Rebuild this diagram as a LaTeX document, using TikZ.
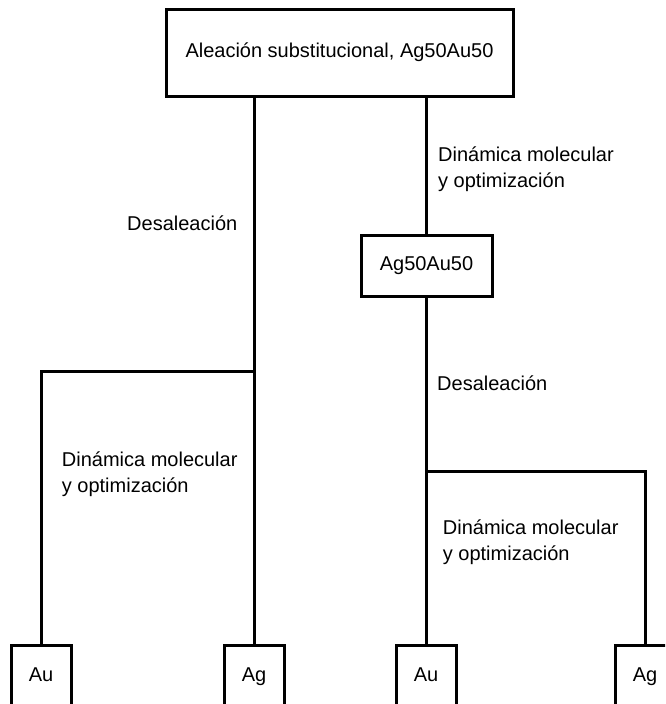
\documentclass[tikz,border=0pt]{standalone}
\usepackage{fontspec}
\setmainfont{Liberation Sans}
\begin{document}
\begin{tikzpicture}[x=1pt,y=-1pt,
  every node/.style={font=\fontsize{20}{26}\selectfont},
  box/.style={draw=black,line width=3pt,fill=white,inner sep=0pt},
  leaf/.style={box,minimum width=60pt,minimum height=62pt,text height=14.3pt,text depth=4.2pt},
  note/.style={anchor=base west,align=left,inner sep=0pt},
  link/.style={line width=3pt}]
\useasboundingbox (0,0) rectangle (665,704);
\fill[white] (0,0) rectangle (665,704);
\clip (0,0) rectangle (665,704);

% start and intermediate alloys
\node[box,minimum width=347pt,minimum height=87pt] (alloy) at (339.5,52.5)
  {Aleación substitucional, Ag50Au50};
\node[box,minimum width=131pt,minimum height=61pt] (relaxed) at (426.5,266) {Ag50Au50};

% final products
\node[leaf] (au1) at (41,676) {Au};
\node[leaf] (ag1) at (254,676) {Ag};
\node[leaf] (au2) at (426,676) {Au};
\node[leaf] (ag2) at (645,676) {Ag};

% branch points
\coordinate (splitL) at (254,371);
\coordinate (splitR) at (426,471);

% connectors
\draw[link] (alloy.south -| splitL) -- (splitL) -- (ag1.north);
\draw[link] (splitL) -| (au1.north);
\draw[link] (alloy.south -| relaxed.north) -- (relaxed.north);
\draw[link] (relaxed.south -| splitR) -- (splitR) -- (au2.north);
\draw[link] (splitR) -| (ag2.north);

% step labels (two-line labels sit on the baseline of their last line)
\node[note] (mdTop) at (438,187.7) {Dinámica molecular\\y optimización};
\node[note] (dealL) at (127,230) {Desaleación};
\node[note] (dealR) at (437,390) {Desaleación};
\node[note] (mdL) at (61.7,492.7) {Dinámica molecular\\y optimización};
\node[note] (mdR) at (442.7,560) {Dinámica molecular\\y optimización};
\end{tikzpicture}
\end{document}
